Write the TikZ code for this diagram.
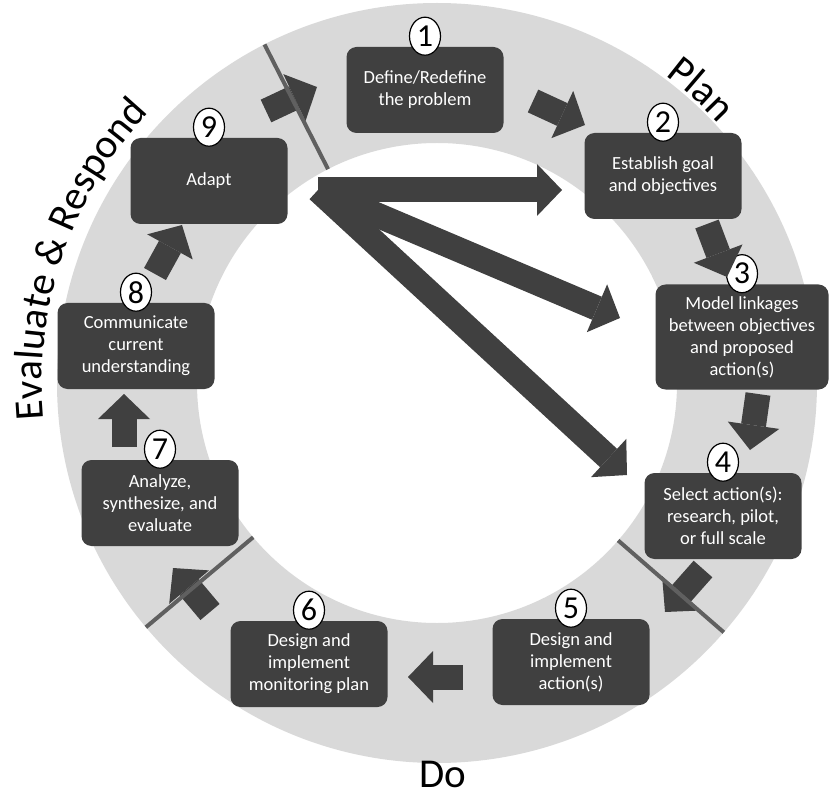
\documentclass[tikz,border=0pt]{standalone}
\usepackage{fontspec}
\setmainfont{Carlito}
\usepackage{tikz}
\usetikzlibrary{shapes,arrows.meta,positioning,decorations.text}
\definecolor{cycdark}{RGB}{64,64,64}
\definecolor{cycring}{RGB}{217,217,217}
\definecolor{cycline}{RGB}{96,96,96}
\newcommand{\phasefont}{\fontsize{41}{41}\selectfont}

\begin{document}
\begin{tikzpicture}[
    x=1pt, y=1pt,
    stepbox/.style={rectangle, rounded corners=10pt, fill=cycdark, text=white, align=center, minimum width=157pt, minimum height=86pt, inner sep=2pt, font=\fontsize{18.5}{22}\selectfont},
    badge/.style={ellipse, draw=black, fill=white, line width=1.2pt, minimum width=31pt, minimum height=38pt, inner sep=0pt, font=\fontsize{32}{32}\selectfont},
    blockarrow/.style={-{Triangle[width=52pt, length=25pt, line width=0pt]}, line width=25pt, draw=cycdark},
    divider/.style={line width=4pt, draw=cycline},
    phase/.style={font=\phasefont, inner sep=0pt}
]
\useasboundingbox (0,0) rectangle (830,-794);

% Ring
\coordinate (ctr) at (437,-383);
\fill[cycring, even odd rule] (ctr) circle (380pt) (ctr) circle (240pt);

% Steps
\node[stepbox] (def) at (425,-90) {Define/Redefine\\the problem};
\node[stepbox] (goal) at (663,-176) {Establish goal\\and objectives};
\node[stepbox, minimum width=173pt, minimum height=105pt] (model) at (742,-337) {Model linkages\\between objectives\\and proposed\\action(s)};
\node[stepbox] (select) at (723,-516) {Select action(s):\\research, pilot,\\or full scale};
\node[stepbox] (act) at (571,-662) {Design and\\implement\\action(s)};
\node[stepbox] (mon) at (309,-664) {Design and\\implement\\monitoring plan};
\node[stepbox] (ana) at (160,-503) {Analyze,\\synthesize, and\\evaluate};
\node[stepbox] (comm) at (136,-346) {Communicate\\current\\understanding};
\node[stepbox] (adapt) at (209,-181) {Adapt};

% Numbers
\node[badge, above=-9pt of def] (n1) {1};
\node[badge, above=-9pt of goal] (n2) {2};
\node[badge, above=-9pt of model] (n3) {3};
\node[badge, above=-9pt of select] (n4) {4};
\node[badge, above=-9pt of act] (n5) {5};
\node[badge, above=-9pt of mon] (n6) {6};
\node[badge, above=-9pt of ana] (n7) {7};
\node[badge, above=-9pt of comm] (n8) {8};
\node[badge, above=-9pt of adapt] (n9) {9};

% Arrow ends - ring
\coordinate (t1) at (266,-111); \coordinate (h1) at (317,-87);
\coordinate (t2) at (533,-101); \coordinate (h2) at (585,-125);
\coordinate (t3) at (707,-224); \coordinate (h3) at (727,-277);
\coordinate (t4) at (758,-394); \coordinate (h4) at (750,-450);
\coordinate (t5) at (703,-569); \coordinate (h5) at (665,-612);
\coordinate (t6) at (463,-677); \coordinate (h6) at (408,-677);
\coordinate (t7) at (210,-612); \coordinate (h7) at (173,-568);
\coordinate (t8) at (124,-447); \coordinate (h8) at (124,-394);
\coordinate (t9) at (155,-274); \coordinate (h9) at (182,-225);

% Arrows - ring
\draw[blockarrow] (t1) -- (h1);
\draw[blockarrow] (t2) -- (h2);
\draw[blockarrow] (t3) -- (h3);
\draw[blockarrow] (t4) -- (h4);
\draw[blockarrow] (t5) -- (h5);
\draw[blockarrow] (t6) -- (h6);
\draw[blockarrow] (t7) -- (h7);
\draw[blockarrow] (t8) -- (h8);
\draw[blockarrow] (t9) -- (h9);

% Arrows - from Adapt
\coordinate (hub) at (318,-190);
\coordinate (to2) at (562,-190);
\coordinate (to3) at (620,-318);
\coordinate (to4) at (627,-475);
\draw[blockarrow] (hub) -- (to2);
\draw[blockarrow] (hub) -- (to3);
\draw[blockarrow] (hub) -- (to4);

% Phase dividers
\draw[divider] ([shift={(117:240pt)}]ctr) -- ([shift={(117:380pt)}]ctr);
\draw[divider] ([shift={(-41:240pt)}]ctr) -- ([shift={(-41:380pt)}]ctr);
\draw[divider] ([shift={(220:240pt)}]ctr) -- ([shift={(220:380pt)}]ctr);

% Phase labels
\path[decorate, decoration={text along path, text align=center, text={|\phasefont|Plan}}]
    ([shift={(61:383pt)}]ctr) arc[start angle=61, end angle=35, radius=383pt];
\path[decorate, decoration={text along path, text align=center, text={|\phasefont|Evaluate {\&} Respond}}]
    ([shift={(190:395pt)}]ctr) arc[start angle=190, end angle=132, radius=395pt];
\node[phase, anchor=base] (do) at (443,-787) {Do};

\end{tikzpicture}
\end{document}
